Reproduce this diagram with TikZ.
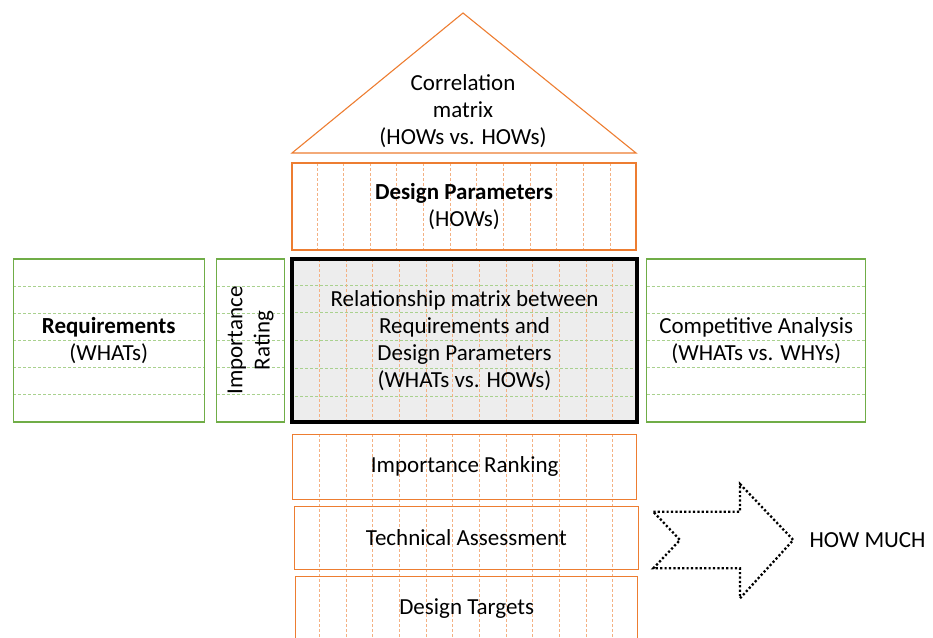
\documentclass[tikz,border=0pt]{standalone}
\usepackage{fontspec}
\setmainfont{Carlito}
\usetikzlibrary{backgrounds,calc}

\definecolor{qforange}{HTML}{ED7D31}
\definecolor{qflightorange}{HTML}{F4B183}
\definecolor{qfgreen}{HTML}{70AD47}
\definecolor{qflightgreen}{HTML}{A9D18E}
\definecolor{qfgray}{HTML}{EDEDED}

\tikzset{
  roomtext/.style={font=\fontsize{23}{27.2}\selectfont, align=center},
  orangebox/.style={draw=qforange, line width=1.1pt, inner sep=0pt, outer sep=0pt, roomtext},
  greenbox/.style={draw=qfgreen, line width=1.1pt, inner sep=0pt, outer sep=0pt, roomtext},
  colline/.style={qflightorange, line width=0.7pt, dash pattern=on 3pt off 2pt},
  rowline/.style={qflightgreen, line width=0.7pt, dash pattern=on 3pt off 2pt},
}

\begin{document}
\begin{tikzpicture}[x=1pt,y=-1pt]
	\useasboundingbox (0,0) rectangle (933,637);
	\clip (0,0) rectangle (933,637);

	% roof
	\draw[qforange, line width=1.1pt] (292,153) -- (463,13) -- (636,153) -- cycle;
	\node[roomtext] (corr) at (463,111) {Correlation\\matrix\\(HOWs vs. HOWs)};

	% HOWs
	\node[orangebox, minimum width=344pt, minimum height=87pt] (hows) at (464,206.5) {\textbf{Design Parameters}\\(HOWs)};

	% WHATs, ratings, matrix, competition
	\node[greenbox, minimum width=190.7pt, minimum height=163pt] (req) at (108.7,340.5) {\textbf{Requirements}\\(WHATs)};
	\node[greenbox, minimum width=67.6pt, minimum height=163pt] (imp) at (250.5,340.5) {};
	\node[roomtext, rotate=90] (implabel) at (imp.center) {Importance\\Rating};
	\node[draw=black, line width=3.2pt, inner sep=0pt, roomtext, minimum width=345pt, minimum height=163pt] (rel) at (464.5,340.5) {Relationship matrix between\\Requirements and\\Design Parameters\\(WHATs vs. HOWs)};
	\node[greenbox, minimum width=219pt, minimum height=163pt] (comp) at (756.2,340.5) {Competitive Analysis\\(WHATs vs. WHYs)};

	% basement
	\node[orangebox, minimum width=344pt, minimum height=64.7pt] (rank) at (464.7,466.7) {Importance Ranking};
	\node[orangebox, minimum width=344pt, minimum height=62.6pt] (tech) at (466.3,538) {Technical Assessment};
	\node[orangebox, minimum width=342pt, minimum height=64.3pt] (targets) at (466.7,608.9) {Design Targets};

	\begin{pgfonlayer}{background}
		\fill[qfgray] (rel.north west) rectangle (rel.south east);
		\foreach \b in {req,imp,rel,comp}
			\foreach \k in {1,...,5}
				\draw[rowline] ($(\b.north west)!\k/6!(\b.south west)$) -- ($(\b.north east)!\k/6!(\b.south east)$);
		\foreach \k in {1,...,12} {
			\draw[colline] ({290.2+26.65*\k},163) -- ({290.2+26.65*\k},250);
			\draw[colline] ({292.7+26.65*\k},259) -- ({292.7+26.65*\k},422);
			\draw[colline] ({292.7+26.65*\k},434) -- ({292.7+26.65*\k},637);
		}
	\end{pgfonlayer}

	% HOW MUCH arrow
	\draw[line width=2.3pt, dash pattern=on 2.2pt off 2.2pt] (653.3,511.7) -- (740,511.7) -- (740,484) -- (793.3,540) -- (740,598.3) -- (740,568.3) -- (653.3,568.3) -- (680,540) -- cycle;
	\node[roomtext, anchor=west] (howmuch) at (806,540) {HOW MUCH};
\end{tikzpicture}
\end{document}
